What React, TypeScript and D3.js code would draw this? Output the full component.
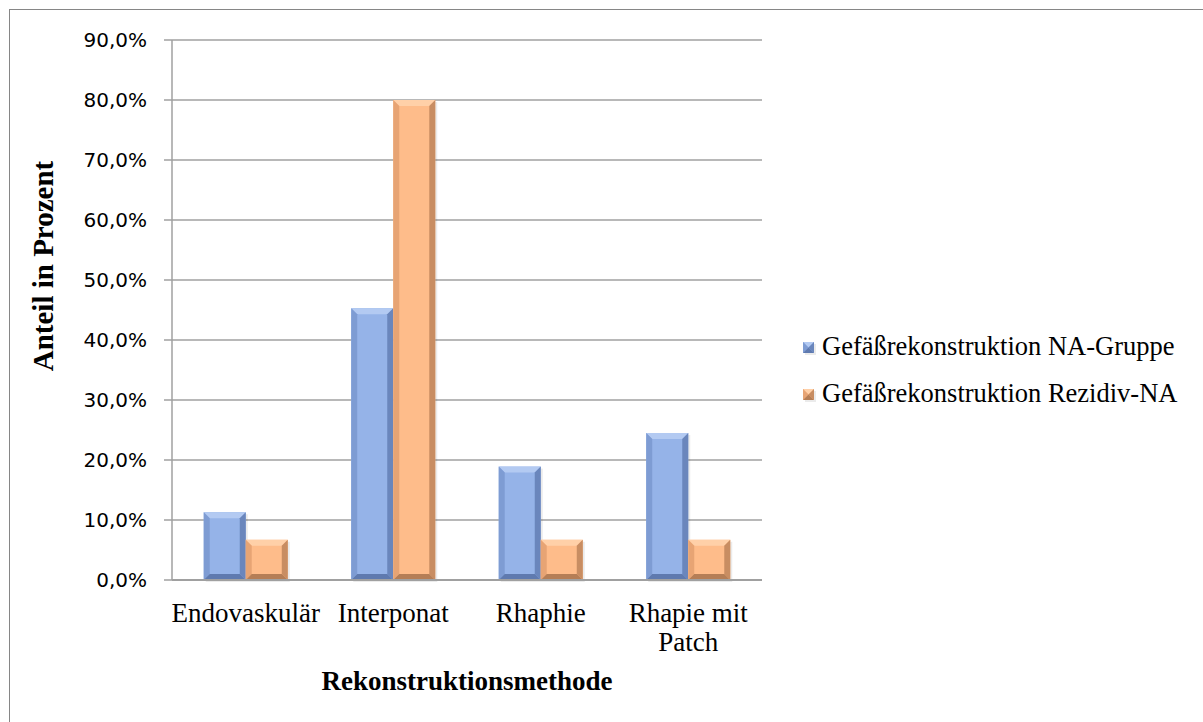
import React from "react";
import * as d3 from "d3";

const categories: string[][] = [
  ["Endovaskulär"],
  ["Interponat"],
  ["Rhaphie"],
  ["Rhapie mit", "Patch"],
];
const seriesNames = [
  "Gefäßrekonstruktion NA-Gruppe",
  "Gefäßrekonstruktion Rezidiv-NA",
];
const naGruppe = [11.3, 45.3, 18.9, 24.5];
const rezidivNA = [6.7, 80.0, 6.7, 6.7];
const yTicks = [0, 10, 20, 30, 40, 50, 60, 70, 80, 90];

const W = 1203;
const H = 722;
const plot = { left: 172, right: 762, top: 40, bottom: 580 };

type Palette = { face: string; top: string; left: string; right: string; bottom: string };
const palettes: Palette[] = [
  { face: "#95B3E8", top: "#B3CAF2", left: "#7E9CD3", right: "#6A86BC", bottom: "#5F7AAF" },
  { face: "#FEBC8A", top: "#FFD0A8", left: "#E7A474", right: "#C88D62", bottom: "#B57E56" },
];

function BevelBar({ x, y, w, h, p }: { x: number; y: number; w: number; h: number; p: Palette }) {
  const b = Math.min(6, h / 2, w / 2);
  const x1 = x + w;
  const y1 = y + h;
  const pts = (a: number[][]) => a.map((q) => q.join(",")).join(" ");
  return (
    <g>
      <rect x={x + 2} y={y + 2} width={w} height={h} fill="#000" opacity={0.08} />
      <rect x={x} y={y} width={w} height={h} fill={p.face} />
      <polygon points={pts([[x, y], [x1, y], [x1 - b, y + b], [x + b, y + b]])} fill={p.top} />
      <polygon points={pts([[x, y], [x + b, y + b], [x + b, y1 - b], [x, y1]])} fill={p.left} />
      <polygon points={pts([[x1, y], [x1, y1], [x1 - b, y1 - b], [x1 - b, y + b]])} fill={p.right} />
      <polygon points={pts([[x, y1], [x + b, y1 - b], [x1 - b, y1 - b], [x1, y1]])} fill={p.bottom} />
    </g>
  );
}

export default function App() {
  const x0 = d3
    .scaleBand<number>()
    .domain(categories.map((_, i) => i))
    .range([plot.left, plot.right])
    .paddingInner(0)
    .paddingOuter(0);
  const x1 = d3
    .scaleBand<number>()
    .domain([0, 1])
    .range([0, x0.bandwidth()])
    .paddingInner(0)
    .paddingOuter(0.755);
  const y = d3.scaleLinear().domain([0, 90]).range([plot.bottom, plot.top]);
  const series = [naGruppe, rezidivNA];
  const fmt = (v: number) => v.toFixed(1).replace(".", ",") + "%";
  const serif = "'Liberation Serif', 'Times New Roman', serif";
  const sans = "'DejaVu Sans', Verdana, sans-serif";
  const fs = 27;

  return (
    <svg
      width={W}
      height={H}
      style={{ position: "absolute", left: 0, top: 0, background: "#fff" }}
    >
      <rect x={9.5} y={9.5} width={W + 20} height={H + 20} fill="#fff" stroke="#868686" strokeWidth={1} />

      {/* gridlines and y ticks */}
      {yTicks.map((t) => (
        <g key={t}>
          <line x1={plot.left - 8} x2={plot.right} y1={y(t)} y2={y(t)} stroke="#A0A0A0" strokeWidth={1.5} />
          <text
            x={147}
            y={y(t)}
            dy="0.36em"
            textAnchor="end"
            fontFamily={sans}
            fontSize={20}
            fill="#000"
          >
            {fmt(t)}
          </text>
        </g>
      ))}
      <line x1={plot.left} x2={plot.left} y1={plot.top} y2={plot.bottom} stroke="#A0A0A0" strokeWidth={1.5} />

      {/* bars */}
      {series.map((vals, s) =>
        vals.map((v, i) => {
          const bx = (x0(i) ?? 0) + (x1(s) ?? 0);
          return (
            <BevelBar
              key={`${s}-${i}`}
              x={bx}
              y={y(v)}
              w={x1.bandwidth()}
              h={y(0) - y(v)}
              p={palettes[s]}
            />
          );
        })
      )}
      <line x1={plot.left} x2={plot.right} y1={plot.bottom} y2={plot.bottom} stroke="#A0A0A0" strokeWidth={2} />

      {/* category labels */}
      {categories.map((lines, i) => (
        <text
          key={i}
          x={(x0(i) ?? 0) + x0.bandwidth() / 2}
          y={622}
          textAnchor="middle"
          fontFamily={serif}
          fontSize={fs}
          fill="#000"
        >
          {lines.map((l, k) => (
            <tspan key={k} x={(x0(i) ?? 0) + x0.bandwidth() / 2} dy={k === 0 ? 0 : 29}>
              {l}
            </tspan>
          ))}
        </text>
      ))}

      {/* axis titles */}
      <text
        x={(plot.left + plot.right) / 2}
        y={690}
        textAnchor="middle"
        fontFamily={serif}
        fontWeight="bold"
        fontSize={fs}
        fill="#000"
      >
        Rekonstruktionsmethode
      </text>
      <text
        transform={`translate(53, 266) rotate(-90)`}
        textAnchor="middle"
        fontFamily={serif}
        fontWeight="bold"
        fontSize={29}
        fill="#000"
      >
        Anteil in Prozent
      </text>

      {/* legend */}
      {seriesNames.map((name, s) => (
        <g key={name} transform={`translate(803, ${342 + s * 47})`}>
          <BevelBar x={0} y={0} w={11} h={11} p={palettes[s]} />
          <text x={19} y={13} fontFamily={serif} fontSize={26.5} fill="#000">
            {name}
          </text>
        </g>
      ))}
    </svg>
  );
}
